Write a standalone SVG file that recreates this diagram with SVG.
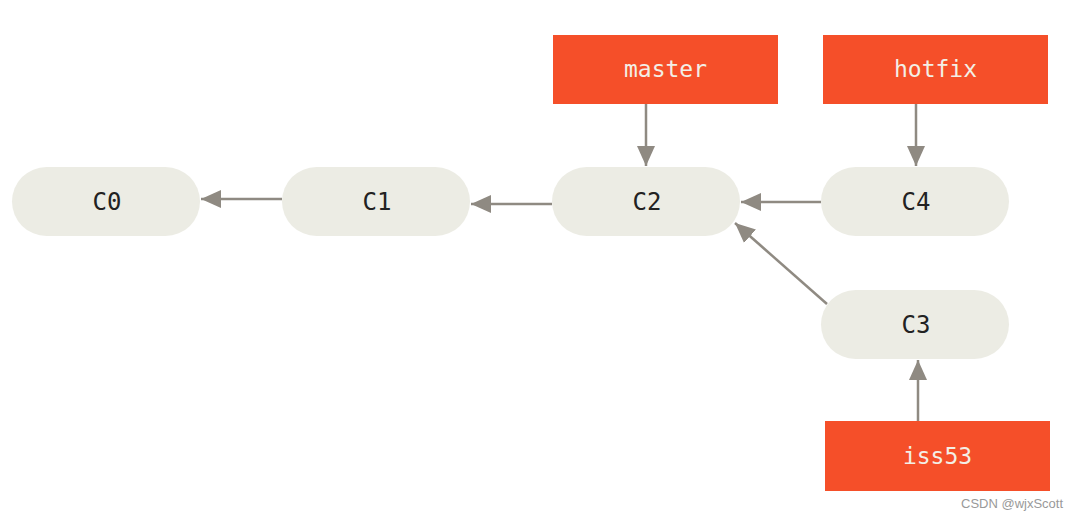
<svg xmlns="http://www.w3.org/2000/svg" width="1078" height="520" viewBox="0 0 1078 520">
<style>
.commit{fill:#ecece4}
.branch{fill:#f54f29}
.ct{font-family:"DejaVu Sans Mono","Liberation Mono",monospace;font-size:24px;fill:#222;text-anchor:middle;dominant-baseline:central}
.bt{font-family:"DejaVu Sans Mono","Liberation Mono",monospace;font-size:23px;fill:#f3efe6;text-anchor:middle;dominant-baseline:central}
.edge{stroke:#8f8a82;stroke-width:2.5;fill:none;marker-end:url(#ah)}
.wm{font-family:"Liberation Sans",Arial,sans-serif;font-size:13px;fill:#999}
</style>
<defs>
<marker id="ah" markerUnits="userSpaceOnUse" markerWidth="20" markerHeight="20" viewBox="0 0 20 20" refX="20" refY="10" orient="auto">
<path d="M0,1 L20,10 L0,19 Z" fill="#8f8a82"/>
</marker>
</defs>
<rect width="1078" height="520" fill="#fff"/>
<g id="connectors">
<line class="edge" x1="282" y1="199" x2="201" y2="199"/>
<line class="edge" x1="552" y1="204" x2="471" y2="204"/>
<line class="edge" x1="821" y1="202" x2="741" y2="202"/>
<line class="edge" x1="827" y1="304" x2="735" y2="223"/>
<line class="edge" x1="646" y1="104" x2="646" y2="166"/>
<line class="edge" x1="916" y1="104" x2="916" y2="166"/>
<line class="edge" x1="918" y1="421" x2="918" y2="360"/>
</g>
<g id="C0"><rect class="commit" x="12" y="167" width="188" height="69" rx="34.5"/><text class="ct" x="107" y="202">C0</text></g>
<g id="C1"><rect class="commit" x="282" y="167" width="188" height="69" rx="34.5"/><text class="ct" x="377" y="202">C1</text></g>
<g id="C2"><rect class="commit" x="552" y="167" width="188" height="69" rx="34.5"/><text class="ct" x="647" y="202">C2</text></g>
<g id="C4"><rect class="commit" x="821" y="167" width="188" height="69" rx="34.5"/><text class="ct" x="916" y="202">C4</text></g>
<g id="C3"><rect class="commit" x="821" y="290" width="188" height="69" rx="34.5"/><text class="ct" x="916" y="325">C3</text></g>
<g id="master"><rect class="branch" x="553" y="35" width="225" height="69"/><text class="bt" x="665.5" y="69">master</text></g>
<g id="hotfix"><rect class="branch" x="823" y="35" width="225" height="69"/><text class="bt" x="935.5" y="69">hotfix</text></g>
<g id="iss53"><rect class="branch" x="825" y="421" width="225" height="70"/><text class="bt" x="937.5" y="456">iss53</text></g>
<text class="wm" x="961" y="508">CSDN @wjxScott</text>
</svg>
